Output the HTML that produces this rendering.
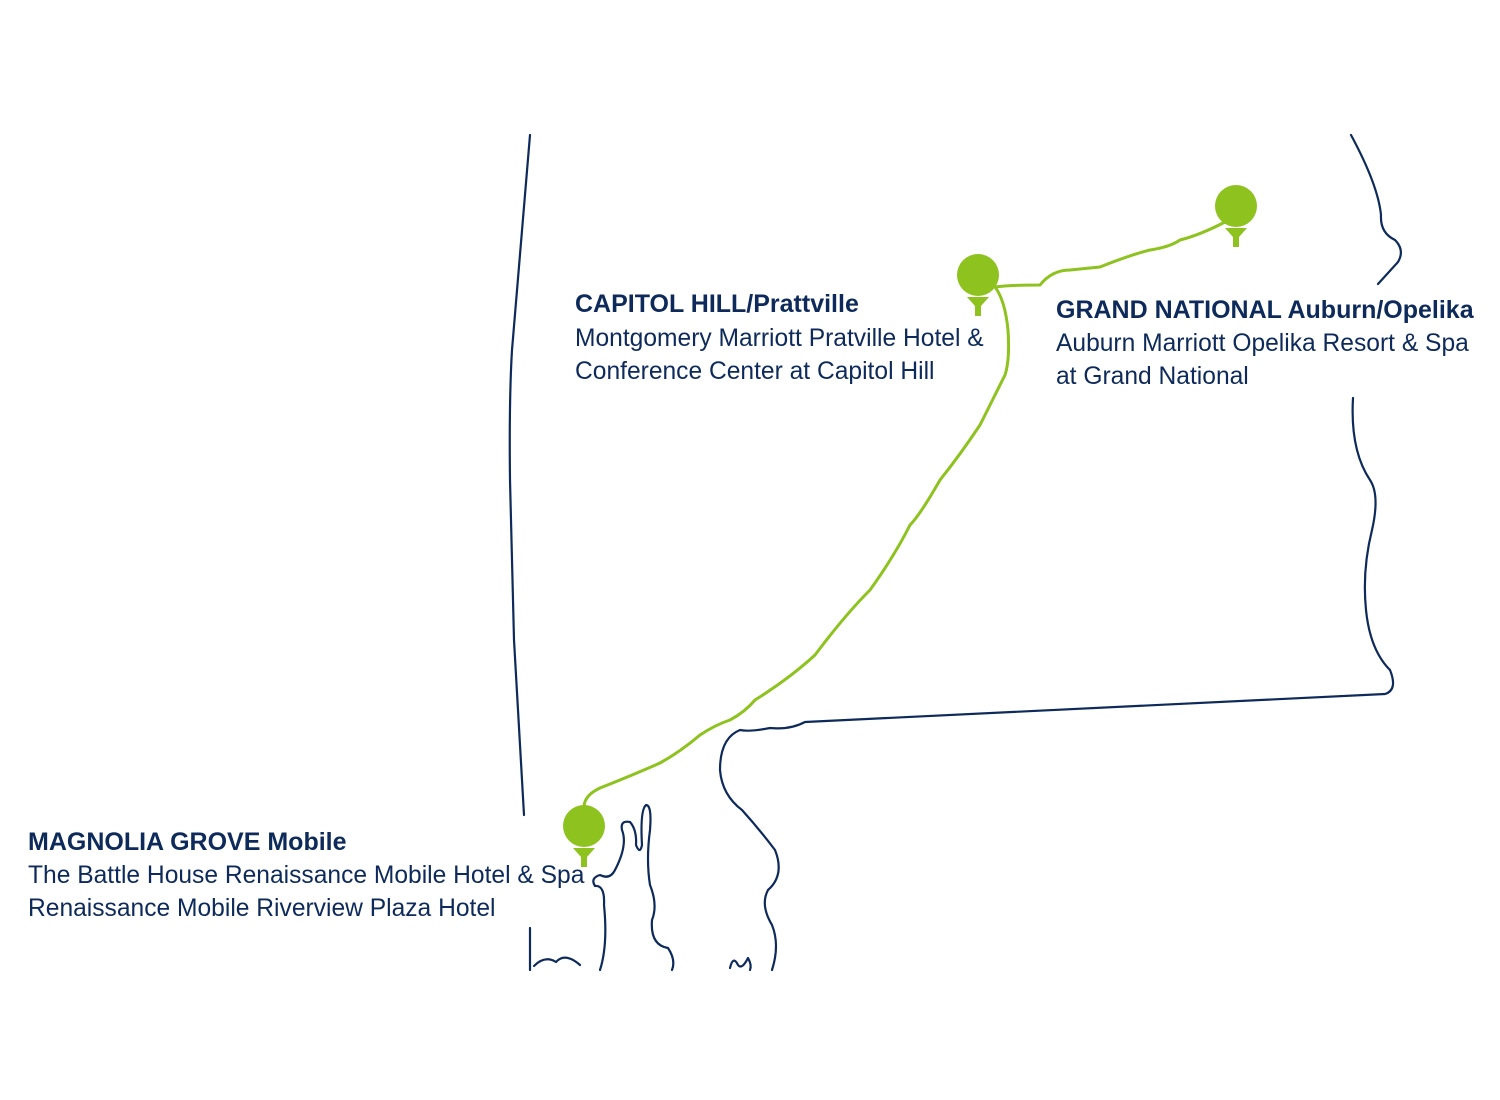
<!DOCTYPE html>
<html><head><meta charset="utf-8"><style>
html,body{margin:0;padding:0;background:#fff;width:1500px;height:1100px;overflow:hidden}
svg{display:block}
text{font-family:"Liberation Sans",sans-serif;font-size:24.6px;fill:#0d2a5a}
.b{font-weight:bold;font-size:25px}
</style></head><body>
<svg width="1500" height="1100" viewBox="0 0 1500 1100">
<g fill="none" stroke="#0d2a5a" stroke-width="2.2" stroke-linecap="round" stroke-linejoin="round">
<path d="M530 135 L512 350 Q509 400 510 480 L514 640 L524 815"/>
<path d="M1351 135 Q1378 185 1381 215 Q1380 233 1395 240 Q1405 250 1398 262 L1378 284"/>
<path d="M1353 398 Q1350 450 1370 480 Q1380 495 1372 530 Q1362 570 1366 610 Q1370 650 1390 670 Q1398 690 1385 694 L805 722 Q790 730 770 728 Q750 732 740 730 Q720 738 720 770 Q722 795 742 810 Q760 830 775 850 Q785 875 768 890 Q760 905 772 925 Q780 945 772 970"/>
<path d="M530 928 L530 970 M534 966 Q545 955 556 962 Q565 952 580 965"/>
<path d="M600 970 Q608 945 604 905 Q605 885 595 886 Q590 878 600 875 Q610 880 615 870 Q628 845 622 830 Q620 820 630 822 Q637 830 636 845 Q640 855 642 845 Q640 810 646 805 Q652 805 650 830 Q646 860 650 885 Q658 905 652 920 Q650 945 668 948 Q676 960 672 970"/>
<path d="M730 968 Q733 955 738 965 Q742 970 748 958 Q752 965 750 970"/>
</g>
<path d="M584 806 Q585 795 600 788 Q640 772 660 763 Q680 752 700 735 Q715 725 730 720 Q745 712 755 700 Q790 678 815 655 Q845 615 870 590 Q895 555 910 525 Q920 515 940 480 Q960 455 980 425 Q995 395 1005 375 Q1010 360 1008 330 Q1005 300 995 287 Q1010 285 1040 285 Q1052 270 1070 270 L1100 267 Q1130 255 1150 250 Q1170 247 1180 240 Q1200 235 1225 222" fill="none" stroke="#8dc21f" stroke-width="3" stroke-linejoin="round"/>
<g fill="#8dc21f">
<circle cx="584" cy="826" r="21"/><path d="M573 848 L595 848 L587 857 L587 867 L581 867 L581 857 Z"/>
<circle cx="978" cy="275" r="21"/><path d="M967 297 L989 297 L981 306 L981 316 L975 316 L975 306 Z"/>
<circle cx="1236" cy="206" r="21"/><path d="M1225 228 L1247 228 L1239 237 L1239 247 L1233 247 L1233 237 Z"/>
</g>
<text x="575" y="312" class="b">CAPITOL HILL/Prattville</text>
<text x="575" y="346">Montgomery Marriott Pratville Hotel &amp;</text>
<text x="575" y="379">Conference Center at Capitol Hill</text>
<text x="1056" y="318" class="b">GRAND NATIONAL Auburn/Opelika</text>
<text x="1056" y="351">Auburn Marriott Opelika Resort &amp; Spa</text>
<text x="1056" y="384">at Grand National</text>
<text x="28" y="850" class="b">MAGNOLIA GROVE Mobile</text>
<text x="28" y="883">The Battle House Renaissance Mobile Hotel &amp; Spa</text>
<text x="28" y="916">Renaissance Mobile Riverview Plaza Hotel</text>
</svg>
</body></html>
